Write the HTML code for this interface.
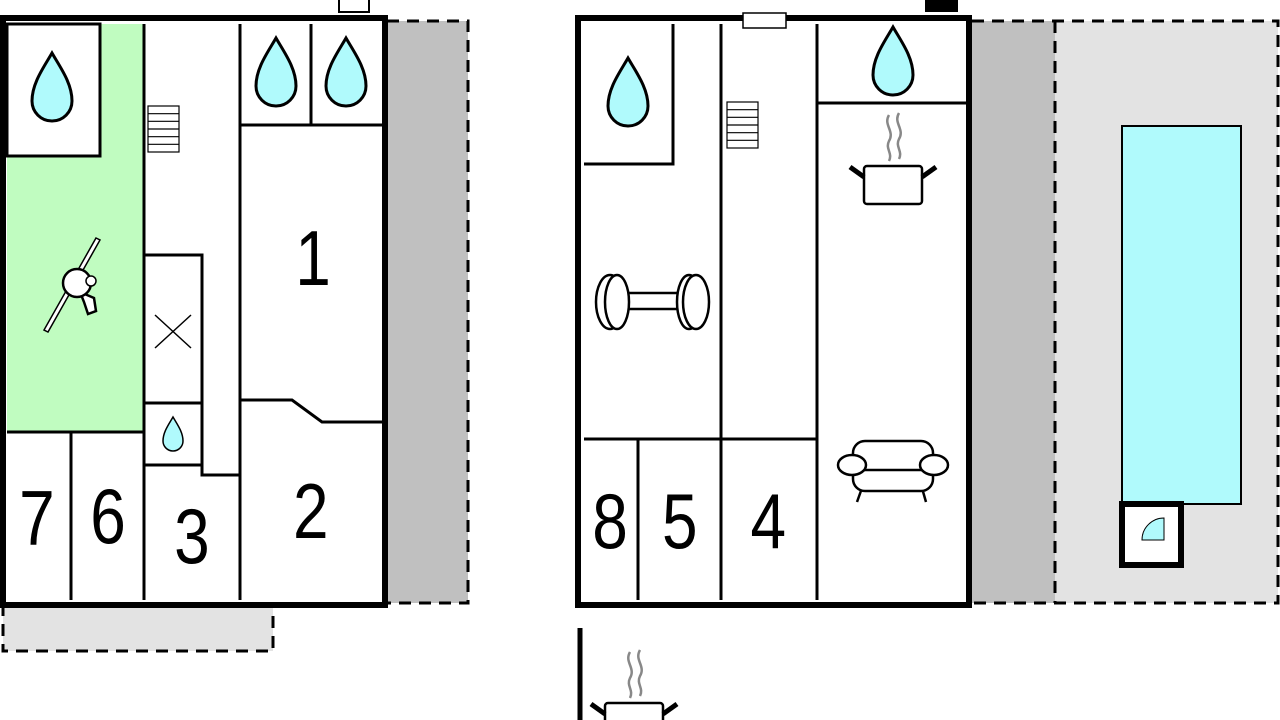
<!DOCTYPE html>
<html><head><meta charset="utf-8"><style>
html,body{margin:0;padding:0;background:#fff;}
svg{display:block;}
text{font-family:"Liberation Sans",sans-serif;fill:#000;}
</style></head><body>
<svg width="1280" height="720" viewBox="0 0 1280 720" xmlns="http://www.w3.org/2000/svg">
<defs>
<path id="drop" d="M0,0 C8,14 20,30 20,48 A20,20 0 0 1 -20,48 C-20,30 -8,14 0,0 Z" fill="#b0fafc" stroke="#000" stroke-width="3"/>
<g id="stairs" fill="#fff" stroke="#000" stroke-width="1.2">
<rect x="0" y="0" width="31" height="46"/>
<line x1="0" y1="7.7" x2="31" y2="7.7"/><line x1="0" y1="15.3" x2="31" y2="15.3"/><line x1="0" y1="23" x2="31" y2="23"/><line x1="0" y1="30.7" x2="31" y2="30.7"/><line x1="0" y1="38.3" x2="31" y2="38.3"/>
</g>
<g id="pot">
<path d="M-4,-60 C-10,-50 2,-44 -4,-34 C-8,-26 0,-22 -4,-14" fill="none" stroke="#888" stroke-width="2.5"/>
<path d="M6,-62 C0,-52 12,-46 6,-36 C2,-28 10,-24 6,-16" fill="none" stroke="#888" stroke-width="2.5"/>
<rect x="-29" y="-9" width="58" height="38" rx="3" fill="#fff" stroke="#000" stroke-width="2.5"/>
<line x1="-29" y1="2" x2="-43" y2="-8" stroke="#000" stroke-width="5"/>
<line x1="29" y1="2" x2="43" y2="-8" stroke="#000" stroke-width="5"/>
</g>
</defs>

<!-- LEFT BUILDING -->
<rect x="339" y="-2" width="30" height="14" fill="#fff" stroke="#000" stroke-width="2"/>
<rect x="387" y="21" width="81" height="582" fill="#c0c0c0"/>
<path d="M387,21 H468 V603 H387" fill="none" stroke="#000" stroke-width="3" stroke-dasharray="12,8"/>
<rect x="3" y="606" width="270" height="45" fill="#e3e3e3" stroke="#000" stroke-width="3" stroke-dasharray="12,8"/>
<rect x="6" y="21" width="376" height="581" fill="#fff"/>
<rect x="7" y="24" width="136" height="408" fill="#c0fcc0"/>
<rect x="7" y="24" width="93" height="132" fill="#fff" stroke="#000" stroke-width="3"/>
<g stroke="#000" stroke-width="3" fill="none">
<line x1="144" y1="24" x2="144" y2="600"/>
<line x1="240" y1="24" x2="240" y2="600"/>
<line x1="7" y1="432" x2="144" y2="432"/>
<line x1="71" y1="432" x2="71" y2="600"/>
<rect x="144" y="255" width="58" height="148"/>
<line x1="144" y1="465" x2="202" y2="465"/>
<polyline points="202,403 202,475 240,475"/>
<line x1="240" y1="125" x2="382" y2="125"/>
<line x1="311" y1="24" x2="311" y2="125"/>
<polyline points="240,400 292,400 322,422 382,422"/>
</g>
<g stroke="#000" stroke-width="1.5"><line x1="155" y1="315" x2="191" y2="348"/><line x1="191" y1="315" x2="155" y2="348"/></g>
<use href="#stairs" x="148" y="106"/>
<use href="#drop" transform="translate(52,53)"/>
<use href="#drop" transform="translate(276,38)"/>
<use href="#drop" transform="translate(346,38)"/>
<use href="#drop" transform="translate(173,417) scale(0.5)"/>
<!-- ping pong -->
<g stroke="#000" stroke-width="1.5" fill="#fff">
<path d="M96,238 L100,240 L48,332 L44,330 Z"/>
<path d="M80,292 L94,298 L96,311 L88,314 L84,302 Z" stroke-width="2.5"/>
<circle cx="77" cy="283" r="14" stroke-width="2.5"/>
<circle cx="91" cy="281" r="5"/>
</g>
<rect x="3" y="18" width="382" height="587" fill="none" stroke="#000" stroke-width="6"/>
<g font-size="78" transform="scale(0.82,1)">
<text x="381.7" y="285" text-anchor="middle">1</text>
<text x="379" y="538" text-anchor="middle">2</text>
<text x="234" y="563" text-anchor="middle">3</text>
<text x="131.7" y="543" text-anchor="middle">6</text>
<text x="45" y="545" text-anchor="middle">7</text>
</g>

<!-- RIGHT BUILDING -->
<rect x="925" y="-2" width="33" height="14" fill="#000"/>
<rect x="1055" y="21" width="223" height="582" fill="#e3e3e3"/>
<rect x="972" y="21" width="83" height="582" fill="#c0c0c0"/>
<path d="M972,21 H1278 V603 H972" fill="none" stroke="#000" stroke-width="3" stroke-dasharray="12,8"/>
<line x1="1055" y1="21" x2="1055" y2="603" stroke="#000" stroke-width="3" stroke-dasharray="12,8"/>
<rect x="1122" y="126" width="119" height="378" fill="#b0fafc" stroke="#000" stroke-width="2"/>
<rect x="1122" y="504" width="59" height="61" fill="#fff" stroke="#000" stroke-width="6"/>
<path d="M1164,518 A22,22 0 0 0 1142,540 L1164,540 Z" fill="#b0fafc" stroke="#000" stroke-width="1"/>
<rect x="581" y="21" width="388" height="581" fill="#fff"/>
<g stroke="#000" stroke-width="3" fill="none">
<polyline points="673,24 673,164 584,164"/>
<line x1="721" y1="24" x2="721" y2="600"/>
<line x1="817" y1="24" x2="817" y2="600"/>
<line x1="817" y1="103" x2="966" y2="103"/>
<line x1="584" y1="439" x2="817" y2="439"/>
<line x1="638" y1="439" x2="638" y2="600"/>
</g>
<use href="#stairs" x="727" y="102"/>
<use href="#drop" transform="translate(628,58)"/>
<use href="#drop" transform="translate(893,27)"/>
<use href="#pot" transform="translate(893,175)"/>
<!-- dumbbell -->
<g stroke="#000" stroke-width="2.5" fill="#fff">
<rect x="612" y="293" width="80" height="16" rx="8"/>
<ellipse cx="610" cy="302" rx="14" ry="27"/>
<ellipse cx="617" cy="302" rx="12" ry="27"/>
<ellipse cx="689" cy="302" rx="12" ry="27"/>
<ellipse cx="696" cy="302" rx="13" ry="27"/>
</g>
<!-- sofa -->
<g stroke="#000" stroke-width="2.5" fill="#fff">
<line x1="862" y1="488" x2="857" y2="502"/><line x1="922" y1="488" x2="926" y2="502"/>
<rect x="853" y="441" width="80" height="50" rx="12"/>
<line x1="858" y1="470" x2="928" y2="470"/>
<ellipse cx="852" cy="465" rx="14" ry="10"/>
<ellipse cx="934" cy="465" rx="14" ry="10"/>
</g>
<rect x="578" y="18" width="391" height="587" fill="none" stroke="#000" stroke-width="6"/>
<rect x="743" y="13" width="43" height="15" fill="#fff" stroke="#000" stroke-width="1.5"/>
<g font-size="78" transform="scale(0.82,1)">
<text x="744" y="548" text-anchor="middle">8</text>
<text x="829" y="548" text-anchor="middle">5</text>
<text x="937" y="548" text-anchor="middle">4</text>
</g>
<line x1="580" y1="628" x2="580" y2="720" stroke="#000" stroke-width="5"/>
<use href="#pot" transform="translate(634,712)"/>
</svg>
</body></html>
